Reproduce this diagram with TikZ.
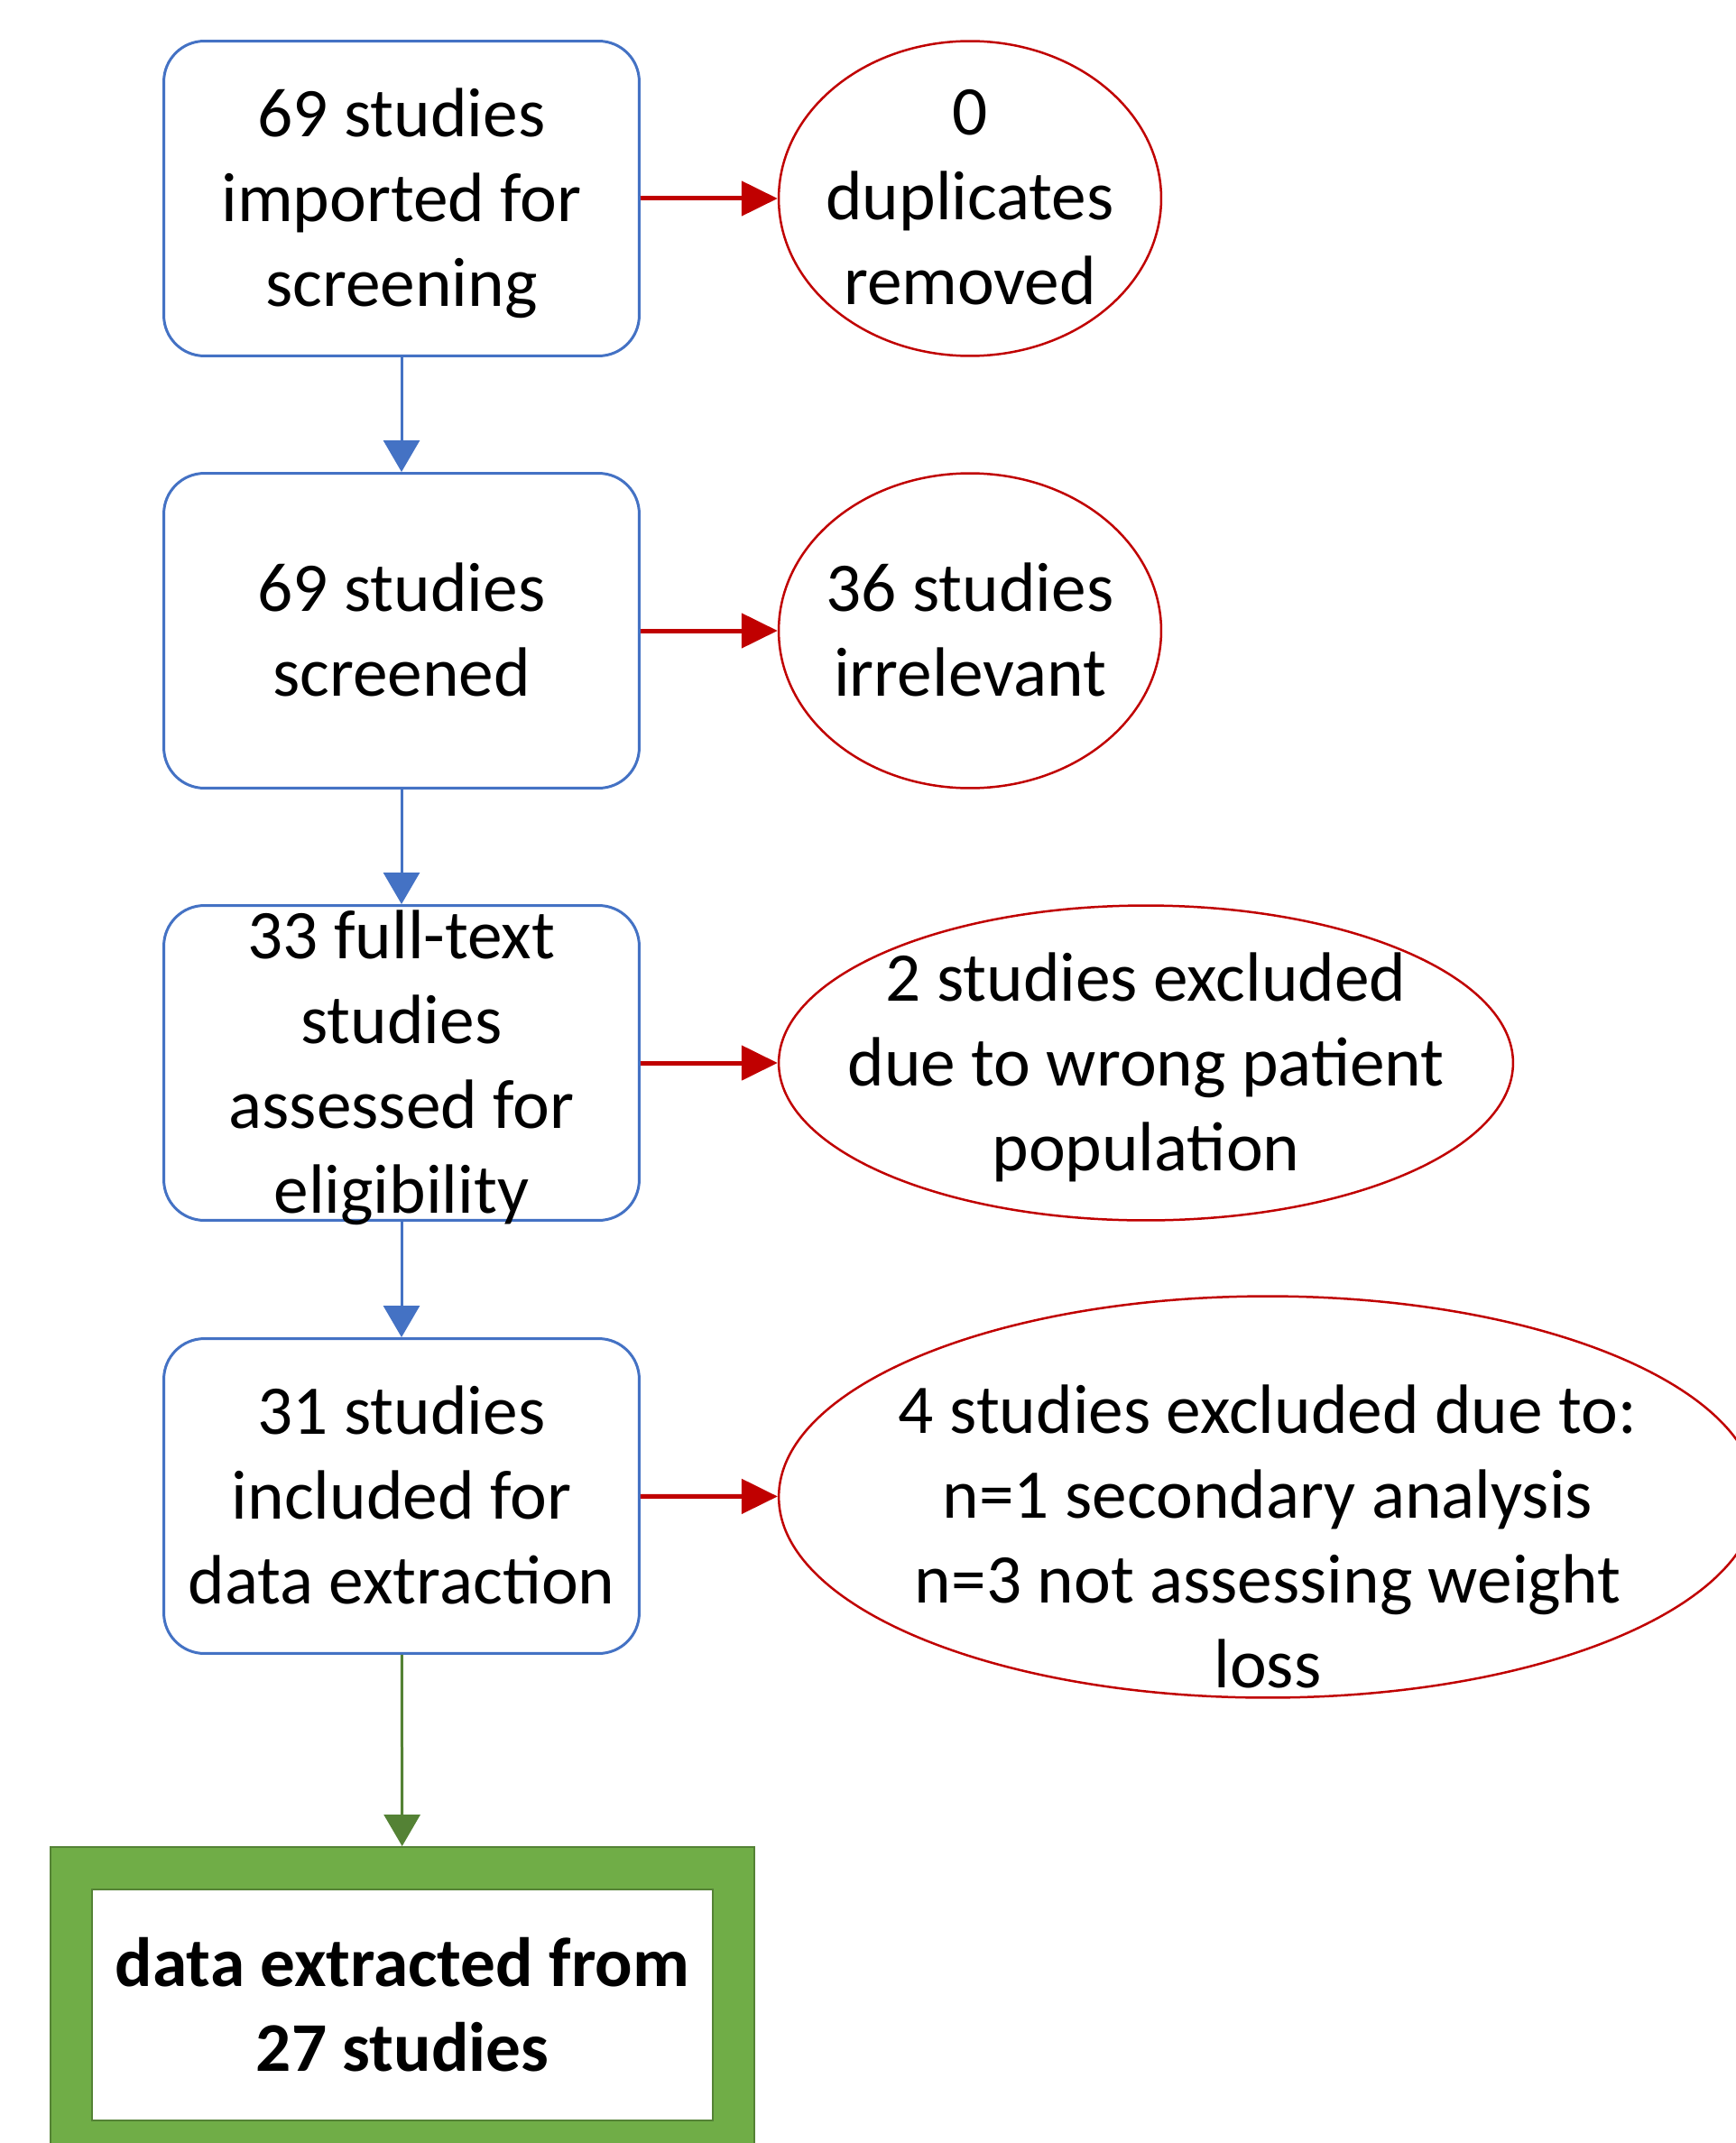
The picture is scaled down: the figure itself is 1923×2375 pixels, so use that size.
\documentclass[tikz,border=0pt]{standalone}
\usepackage{fontspec}
\setmainfont{Carlito}
\usepackage{xcolor}
\usetikzlibrary{arrows.meta}
\usetikzlibrary{shapes.geometric}

\definecolor{boxBlue}{RGB}{68,114,196}
\definecolor{exRed}{RGB}{192,0,0}
\definecolor{finGreen}{RGB}{112,173,71}
\definecolor{finDark}{RGB}{84,130,53}

\begin{document}
\begin{tikzpicture}[
    x=0.02cm, y=-0.02cm,
    % --- styles ---
    box/.style = {draw=boxBlue, line width=0.06cm, rounded corners=0.9cm,
                  minimum width=10.54cm, minimum height=6.98cm}, % step box
    excl/.style 2 args = {ellipse, draw=exRed, line width=0.05cm,
                  minimum width=#1, minimum height=#2},          % excluded studies
    txt/.style = {align=center, inner sep=0pt, yshift=-0.26cm,
                  font=\fontsize{44}{53.5}\selectfont,
                  execute at begin node=\strut, execute at end node=\strut}, % texts
    vflow/.style = {color=#1, line width=0.06cm,
                  -{Triangle[width=0.8cm,length=0.7cm]}},         % downward arrows
    hflow/.style = {color=exRed, line width=0.1cm,
                  -{Triangle[width=0.76cm,length=0.8cm]}}         % side arrows
    ]

    % --- parameters ---
    \def\bx{445}    % x of the step boxes
    \def\ex{1075}   % x of the small ellipses

    \useasboundingbox (0,0) rectangle (1923,2375);

    % --- step boxes ---
    \node[box] (imp)  at (\bx,220)  {};
    \node[box] (scr)  at (\bx,699)  {};
    \node[box] (full) at (\bx,1178) {};
    \node[box] (incl) at (\bx,1658) {};

    % --- exclusion ellipses ---
    \node[excl={8.48cm}{6.98cm}]  (dup) at (\ex,220)   {};
    \node[excl={8.48cm}{6.98cm}]  (irr) at (\ex,699)   {};
    \node[excl={16.28cm}{6.98cm}] (pop) at (1270,1178) {};
    \node[excl={21.68cm}{8.9cm}]  (oth) at (1405,1659) {};

    % --- final box (green frame) ---
    \node[fill=finGreen, draw=finDark, line width=0.04cm,
          minimum width=15.6cm, minimum height=7.0cm] (fin) at (446,2222) {};
    \node[fill=white, draw=finDark, line width=0.04cm,
          minimum width=13.78cm, minimum height=5.12cm] (finIn) at (446,2222) {};

    % --- texts ---
    \node[txt] (impTxt)  at (imp)  {69 studies\\imported for\\screening};
    \node[txt] (scrTxt)  at (scr)  {69 studies\\screened};
    \node[txt] (fullTxt) at (full) {33 full-text\\studies\\assessed for\\eligibility};
    \node[txt] (inclTxt) at (incl) {31 studies\\included for\\data extraction};
    \node[txt] (dupTxt)  at (dup)  {0\\duplicates\\removed};
    \node[txt] (irrTxt)  at (irr)  {36 studies\\irrelevant};
    \node[txt] (popTxt)  at (pop)  {2 studies excluded\\due to wrong patient\\population};
    \node[txt] (othTxt)  at (1405,1704) {4 studies excluded due to:\\n=1 secondary analysis\\n=3 not assessing weight\\loss};
    \node[txt, font=\fontsize{44}{53.5}\selectfont\bfseries] (finTxt) at (finIn)
        {data extracted from\\27 studies};

    % --- arrows ---
    \draw[vflow=boxBlue] (imp) -- (scr);
    \draw[vflow=boxBlue] (scr) -- (full);
    \draw[vflow=boxBlue] (full) -- (incl);
    \draw[vflow=finDark] (incl) -- (fin);
    \draw[hflow] (imp) -- (dup);
    \draw[hflow] (scr) -- (irr);
    \draw[hflow] (full) -- (pop);
    \draw[hflow] (incl) -- (oth);
\end{tikzpicture}
\end{document}
